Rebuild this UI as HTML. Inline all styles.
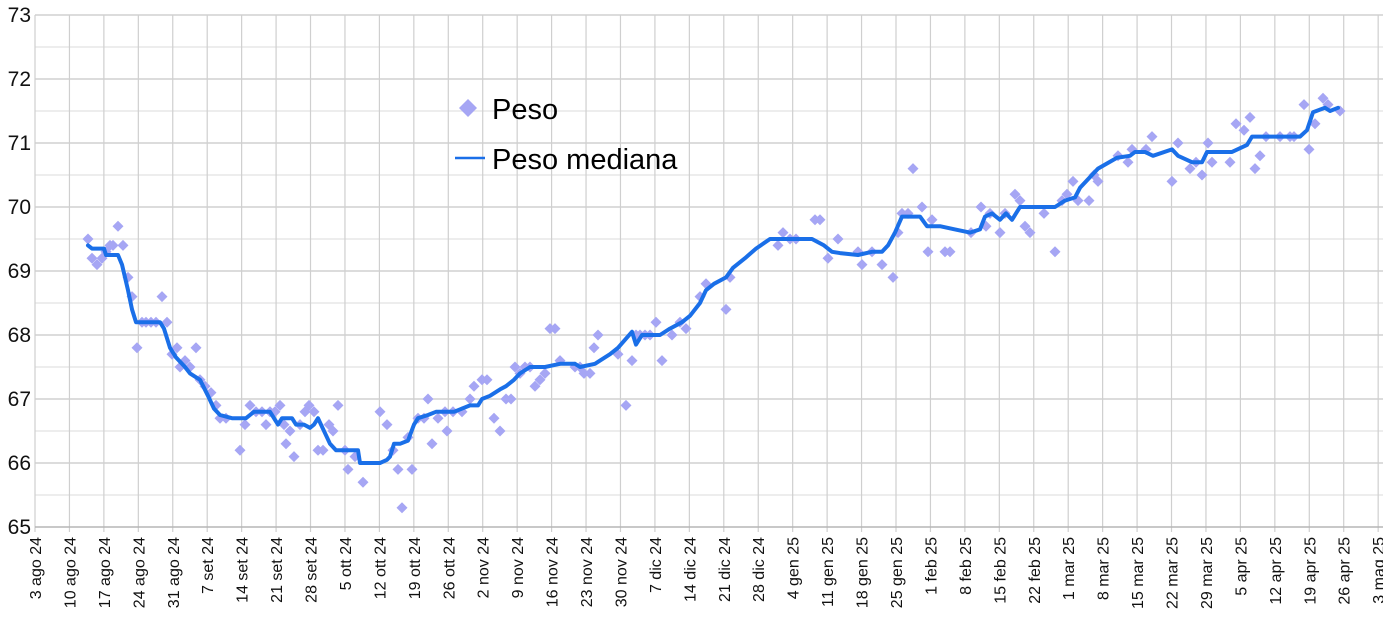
<!DOCTYPE html>
<html><head><meta charset="utf-8"><style>
html,body{margin:0;padding:0;background:#fff;}
svg{display:block;font-family:"Liberation Sans",sans-serif;}
</style></head><body>
<svg id="c" width="1383" height="618" xmlns="http://www.w3.org/2000/svg"></svg>
<script>
const svg=document.getElementById('c');
const NS='http://www.w3.org/2000/svg';
function el(t,a,txt){const e=document.createElementNS(NS,t);for(const k in a)e.setAttribute(k,a[k]);if(txt!==undefined)e.textContent=txt;svg.appendChild(e);return e;}
const Y=v=>15+(73-v)*64;
const X0=35,W=34.44;
for(let i=0;i<=16;i++){const y=15+i*32;el('line',{x1:X0,x2:1383,y1:y,y2:y,stroke:i%2? '#e2e2e2':'#c8c8c8','stroke-width':1.2});}
for(let i=0;i<=39;i++){const x=X0+i*W;el('line',{x1:x,x2:x,y1:15,y2:532,stroke:'#cfcfcf','stroke-width':1.2});}
el('line',{x1:X0,x2:1383,y1:527,y2:527,stroke:'#b0b0b0','stroke-width':1.2});
for(let v=65;v<=73;v++){el('text',{x:31,y:Y(v)+7,'text-anchor':'end','font-size':21,fill:'#111'},String(v));}
const labs=['3 ago 24','10 ago 24','17 ago 24','24 ago 24','31 ago 24','7 set 24','14 set 24','21 set 24','28 set 24','5 ott 24','12 ott 24','19 ott 24','26 ott 24','2 nov 24','9 nov 24','16 nov 24','23 nov 24','30 nov 24','7 dic 24','14 dic 24','21 dic 24','28 dic 24','4 gen 25','11 gen 25','18 gen 25','25 gen 25','1 feb 25','8 feb 25','15 feb 25','22 feb 25','1 mar 25','8 mar 25','15 mar 25','22 mar 25','29 mar 25','5 apr 25','12 apr 25','19 apr 25','26 apr 25','3 mag 25'];
labs.forEach((l,i)=>{const x=X0+i*W+6;el('text',{x:0,y:0,transform:`translate(${x},537) rotate(-90)`,'text-anchor':'end','font-size':16,fill:'#111'},l);});
const pts=[[88,69.5],[92,69.2],[97,69.1],[102,69.2],[106,69.3],[110,69.4],[113,69.4],[118,69.7],[123,69.4],[128,68.9],[132,68.6],[137,67.8],[142,68.2],[146,68.2],[151,68.2],[156,68.2],[162,68.6],[167,68.2],[172,67.7],[177,67.8],[180,67.5],[185,67.6],[190,67.5],[196,67.8],[200,67.3],[205,67.2],[211,67.1],[216,66.9],[220,66.7],[226,66.7],[240,66.2],[245,66.6],[250,66.9],[256,66.8],[262,66.8],[266,66.6],[270,66.8],[275,66.8],[280,66.9],[284,66.6],[286,66.3],[290,66.5],[294,66.1],[300,66.6],[305,66.8],[309,66.9],[314,66.8],[318,66.2],[323,66.2],[329,66.6],[333,66.5],[338,66.9],[345,66.2],[348,65.9],[355,66.1],[363,65.7],[380,66.8],[387,66.6],[393,66.2],[398,65.9],[402,65.3],[408,66.4],[412,65.9],[418,66.7],[424,66.7],[428,67.0],[432,66.3],[438,66.7],[445,66.8],[447,66.5],[453,66.8],[462,66.8],[470,67.0],[474,67.2],[482,67.3],[487,67.3],[494,66.7],[500,66.5],[506,67.0],[511,67.0],[515,67.5],[520,67.4],[525,67.5],[530,67.5],[535,67.2],[540,67.3],[545,67.4],[550,68.1],[555,68.1],[560,67.6],[575,67.5],[580,67.5],[584,67.4],[590,67.4],[594,67.8],[598,68.0],[618,67.7],[626,66.9],[632,67.6],[636,68.0],[640,68.0],[645,68.0],[650,68.0],[656,68.2],[662,67.6],[672,68.0],[680,68.2],[686,68.1],[700,68.6],[706,68.8],[726,68.4],[730,68.9],[778,69.4],[783,69.6],[790,69.5],[796,69.5],[815,69.8],[820,69.8],[828,69.2],[838,69.5],[858,69.3],[862,69.1],[872,69.3],[882,69.1],[893,68.9],[898,69.6],[902,69.9],[908,69.9],[913,70.6],[922,70.0],[928,69.3],[932,69.8],[945,69.3],[950,69.3],[971,69.6],[981,70.0],[986,69.7],[990,69.9],[1000,69.6],[1005,69.9],[1015,70.2],[1020,70.1],[1025,69.7],[1030,69.6],[1044,69.9],[1055,69.3],[1062,70.1],[1067,70.2],[1073,70.4],[1078,70.1],[1089,70.1],[1094,70.5],[1098,70.4],[1118,70.8],[1128,70.7],[1132,70.9],[1146,70.9],[1152,71.1],[1172,70.4],[1178,71.0],[1190,70.6],[1196,70.7],[1202,70.5],[1208,71.0],[1212,70.7],[1230,70.7],[1236,71.3],[1244,71.2],[1250,71.4],[1255,70.6],[1260,70.8],[1266,71.1],[1280,71.1],[1290,71.1],[1294,71.1],[1304,71.6],[1309,70.9],[1315,71.3],[1323,71.7],[1328,71.6],[1340,71.5]];
const d=(x,y,r)=>`${x},${y-r} ${x+r},${y} ${x},${y+r} ${x-r},${y}`;
pts.forEach(p=>el('polygon',{points:d(p[0],Y(p[1]),5.5),fill:'#a6a6f4'}));
const med=[[88,69.4],[92,69.35],[104,69.35],[106,69.25],[118,69.25],[122,69.1],[128,68.7],[132,68.4],[136,68.2],[160,68.2],[164,68.1],[170,67.8],[176,67.65],[185,67.5],[190,67.4],[200,67.3],[208,67.05],[214,66.85],[220,66.75],[232,66.7],[246,66.7],[254,66.8],[270,66.8],[278,66.6],[282,66.7],[292,66.7],[296,66.6],[304,66.6],[310,66.55],[314,66.6],[318,66.7],[330,66.3],[336,66.2],[342,66.2],[358,66.2],[360,66.0],[380,66.0],[387,66.05],[390,66.1],[394,66.3],[400,66.3],[408,66.35],[414,66.6],[418,66.7],[428,66.75],[436,66.8],[454,66.8],[470,66.9],[478,66.9],[482,67.0],[490,67.05],[500,67.15],[506,67.2],[514,67.3],[520,67.4],[530,67.5],[545,67.5],[560,67.55],[575,67.55],[580,67.5],[595,67.55],[600,67.6],[610,67.7],[618,67.8],[632,68.05],[636,67.85],[642,68.0],[660,68.0],[670,68.1],[682,68.2],[690,68.3],[700,68.5],[706,68.7],[714,68.8],[726,68.9],[733,69.05],[745,69.2],[756,69.35],[770,69.5],[812,69.5],[824,69.4],[832,69.3],[840,69.28],[858,69.25],[872,69.3],[882,69.3],[888,69.4],[895,69.6],[902,69.85],[920,69.85],[927,69.7],[940,69.7],[955,69.65],[970,69.6],[980,69.65],[985,69.85],[992,69.9],[1000,69.8],[1006,69.9],[1012,69.8],[1020,70.0],[1055,70.0],[1065,70.1],[1075,70.15],[1080,70.3],[1098,70.6],[1117,70.77],[1130,70.8],[1135,70.86],[1145,70.86],[1153,70.8],[1172,70.9],[1178,70.8],[1192,70.7],[1202,70.7],[1207,70.86],[1232,70.86],[1247,70.97],[1252,71.1],[1300,71.1],[1307,71.2],[1313,71.48],[1325,71.55],[1330,71.5],[1338,71.55]];
el('polyline',{points:med.map(p=>p[0]+','+Y(p[1])).join(' '),fill:'none',stroke:'#1a6fe8','stroke-width':4,'stroke-linejoin':'round','stroke-linecap':'round'});
el('polygon',{points:d(468,108,9),fill:'#a6a6f4'});
el('text',{x:492,y:119,'font-size':29,fill:'#000'},'Peso');
el('line',{x1:455,x2:485,y1:158,y2:158,stroke:'#1a6fe8','stroke-width':2.5});
el('text',{x:492,y:169,'font-size':29,fill:'#000'},'Peso mediana');
</script>
</body></html>
